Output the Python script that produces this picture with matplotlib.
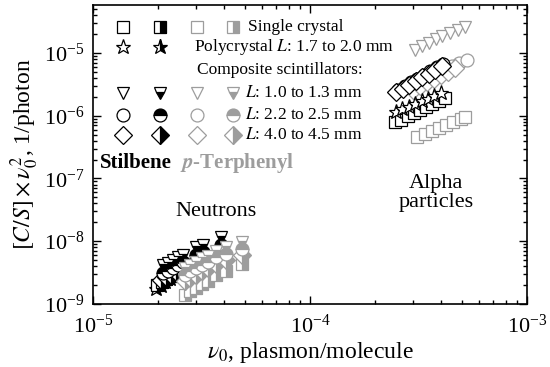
import matplotlib
matplotlib.use("Agg")
import matplotlib.pyplot as plt

plt.rcParams['font.family'] = ['Liberation Serif', 'DejaVu Serif']
plt.rcParams['mathtext.fontset'] = 'stix'

BLACK = 'black'
GRAY = '#9d9d9d'

# ---- alpha particles (open markers) ----
st_sq_a_x = [2.47e-4, 2.64e-4, 2.82e-4, 3.01e-4, 3.21e-4, 3.43e-4, 3.67e-4, 3.92e-4, 4.19e-4]
st_sq_a_y = [7.8e-7, 8.7e-7, 9.8e-7, 1.10e-6, 1.23e-6, 1.38e-6, 1.55e-6, 1.74e-6, 1.95e-6]
st_star_a_x = [2.50e-4, 2.67e-4, 2.86e-4, 3.06e-4, 3.27e-4, 3.50e-4, 3.74e-4, 4.00e-4]
st_star_a_y = [1.15e-6, 1.27e-6, 1.40e-6, 1.55e-6, 1.71e-6, 1.88e-6, 2.08e-6, 2.30e-6]
st_circ_a_x = [2.55e-4, 2.73e-4, 2.92e-4, 3.13e-4, 3.35e-4, 3.59e-4, 3.84e-4, 4.10e-4]
st_circ_a_y = [2.6e-6, 3.0e-6, 3.4e-6, 3.9e-6, 4.5e-6, 5.1e-6, 5.9e-6, 6.8e-6]
st_dia_a_x = [2.50e-4, 2.68e-4, 2.87e-4, 3.08e-4, 3.30e-4, 3.54e-4, 3.79e-4, 4.06e-4]
st_dia_a_y = [2.35e-6, 2.7e-6, 3.1e-6, 3.55e-6, 4.1e-6, 4.7e-6, 5.4e-6, 6.3e-6]

tp_sq_a_x = [3.13e-4, 3.38e-4, 3.65e-4, 3.94e-4, 4.25e-4, 4.58e-4, 4.95e-4, 5.20e-4]
tp_sq_a_y = [4.5e-7, 5.1e-7, 5.7e-7, 6.4e-7, 7.2e-7, 8.0e-7, 8.9e-7, 9.6e-7]
tp_tri_a_x = [3.05e-4, 3.28e-4, 3.53e-4, 3.80e-4, 4.08e-4, 4.40e-4, 4.80e-4, 5.18e-4]
tp_tri_a_y = [1.12e-5, 1.28e-5, 1.45e-5, 1.65e-5, 1.87e-5, 2.10e-5, 2.35e-5, 2.60e-5]
tp_circ_a_x = [3.10e-4, 3.34e-4, 3.60e-4, 3.88e-4, 4.18e-4, 4.50e-4, 4.85e-4, 5.30e-4]
tp_circ_a_y = [3.0e-6, 3.5e-6, 4.0e-6, 4.6e-6, 5.3e-6, 6.1e-6, 7.0e-6, 7.8e-6]
tp_dia_a_x = [2.97e-4, 3.20e-4, 3.45e-4, 3.72e-4, 4.00e-4, 4.32e-4, 4.66e-4]
tp_dia_a_y = [2.6e-6, 3.0e-6, 3.4e-6, 3.9e-6, 4.4e-6, 5.0e-6, 5.7e-6]

# ---- neutrons (half-filled markers) ----
st_tri_n_x = [2.10e-5, 2.22e-5, 2.34e-5, 2.47e-5, 2.60e-5, 3.00e-5, 3.22e-5, 3.89e-5]
st_tri_n_y = [4.1e-9, 4.5e-9, 5.0e-9, 5.5e-9, 6.1e-9, 8.0e-9, 8.8e-9, 1.17e-8]
st_circ_n_x = [2.10e-5, 2.22e-5, 2.34e-5, 2.47e-5, 2.60e-5, 3.00e-5, 3.22e-5, 3.89e-5]
st_circ_n_y = [3.1e-9, 3.4e-9, 3.75e-9, 4.1e-9, 4.6e-9, 6.0e-9, 6.6e-9, 8.8e-9]
st_dia_n_x = [2.05e-5, 2.17e-5, 2.29e-5, 2.42e-5, 2.55e-5, 2.95e-5, 3.17e-5, 3.85e-5]
st_dia_n_y = [2.4e-9, 2.65e-9, 2.9e-9, 3.2e-9, 3.6e-9, 4.7e-9, 5.2e-9, 6.9e-9]
st_sq_n_x = [1.98e-5, 2.08e-5, 2.18e-5, 2.30e-5, 2.45e-5]
st_sq_n_y = [2.0e-9, 2.25e-9, 2.5e-9, 2.8e-9, 3.1e-9]
st_star_n_x = [1.95e-5, 2.05e-5, 2.15e-5, 2.26e-5, 2.40e-5, 2.54e-5]
st_star_n_y = [1.7e-9, 1.95e-9, 2.2e-9, 2.45e-9, 2.75e-9, 3.0e-9]

tp_tri_n_x = [2.65e-5, 2.80e-5, 2.98e-5, 3.18e-5, 3.39e-5, 3.70e-5, 4.10e-5, 4.86e-5]
tp_tri_n_y = [3.7e-9, 4.2e-9, 4.7e-9, 5.3e-9, 5.9e-9, 6.9e-9, 8.0e-9, 9.6e-9]
tp_circ_n_x = [2.65e-5, 2.80e-5, 2.98e-5, 3.18e-5, 3.39e-5, 3.70e-5, 4.10e-5, 4.86e-5]
tp_circ_n_y = [2.9e-9, 3.3e-9, 3.7e-9, 4.2e-9, 4.7e-9, 5.5e-9, 6.3e-9, 7.6e-9]
tp_dia_n_x = [2.65e-5, 2.80e-5, 2.98e-5, 3.18e-5, 3.39e-5, 3.70e-5, 4.10e-5, 4.86e-5]
tp_dia_n_y = [2.3e-9, 2.6e-9, 2.9e-9, 3.3e-9, 3.7e-9, 4.4e-9, 5.0e-9, 6.1e-9]
tp_sq_n_x = [2.65e-5, 2.80e-5, 2.98e-5, 3.18e-5, 3.39e-5, 3.70e-5, 4.10e-5, 4.86e-5]
tp_sq_n_y = [1.4e-9, 1.6e-9, 1.8e-9, 2.05e-9, 2.35e-9, 2.9e-9, 3.4e-9, 4.3e-9]

legend_rows = [
    ('s', 'Single crystal'),
    ('*', 'Polycrystal $L$: 1.7 to 2.0 mm'),
    (None, 'Composite scintillators:'),
    ('v', '$L$: 1.0 to 1.3 mm'),
    ('o', '$L$: 2.2 to 2.5 mm'),
    ('D', '$L$: 4.0 to 4.5 mm'),
]
half_fill = {'s': 'right', '*': 'right', 'v': 'bottom', 'o': 'top', 'D': 'right'}

MS = 9.3
LW = 0.9


def open_pts(ax, x, y, m, c, ms=MS):
    ax.plot(x, y, ls='none', marker=m, ms=ms, mfc='white', mec=c, mew=LW)


def half_pts(ax, x, y, m, c, ms=MS):
    ax.plot(x, y, ls='none', marker=m, ms=ms, mec=c, mfc=c, mfcalt='white',
            fillstyle=half_fill[m], mew=LW)


fig = plt.figure(figsize=(5.5, 3.67), dpi=100)
ax = fig.add_axes([0.169, 0.172, 0.789, 0.814])

# alpha
open_pts(ax, tp_sq_a_x, tp_sq_a_y, 's', GRAY)
open_pts(ax, tp_tri_a_x, tp_tri_a_y, 'v', GRAY)
open_pts(ax, tp_circ_a_x, tp_circ_a_y, 'o', GRAY)
open_pts(ax, tp_dia_a_x, tp_dia_a_y, 'D', GRAY)
open_pts(ax, st_circ_a_x, st_circ_a_y, 'o', BLACK)
open_pts(ax, st_dia_a_x, st_dia_a_y, 'D', BLACK)
open_pts(ax, st_sq_a_x, st_sq_a_y, 's', BLACK)
open_pts(ax, st_star_a_x, st_star_a_y, '*', BLACK, ms=MS + 2)

# neutrons
half_pts(ax, st_star_n_x, st_star_n_y, '*', BLACK, ms=MS + 2)
half_pts(ax, st_sq_n_x, st_sq_n_y, 's', BLACK)
half_pts(ax, st_dia_n_x, st_dia_n_y, 'D', BLACK)
half_pts(ax, st_circ_n_x, st_circ_n_y, 'o', BLACK)
half_pts(ax, st_tri_n_x, st_tri_n_y, 'v', BLACK)
half_pts(ax, tp_sq_n_x, tp_sq_n_y, 's', GRAY)
half_pts(ax, tp_dia_n_x, tp_dia_n_y, 'D', GRAY)
half_pts(ax, tp_circ_n_x, tp_circ_n_y, 'o', GRAY)
half_pts(ax, tp_tri_n_x, tp_tri_n_y, 'v', GRAY)

ax.set_xscale('log')
ax.set_yscale('log')
ax.set_xlim(1e-5, 1e-3)
ax.set_ylim(1e-9, 5.8e-5)

# legend drawn by hand (keys in axes fraction)
col_x = [0.069, 0.154, 0.240, 0.323]
row_y = [0.926, 0.860, 0.783, 0.706, 0.632, 0.565]
text_x = [0.357, 0.233, 0.240, 0.350, 0.350, 0.350]
for (m, lab), ry, tx in zip(legend_rows, row_y, text_x):
    if m is not None:
        ms = MS + 2 if m == '*' else MS
        ax.plot([col_x[0]], [ry], transform=ax.transAxes, ls='none', marker=m, ms=ms,
                mfc='white', mec=BLACK, mew=LW, clip_on=False)
        ax.plot([col_x[1]], [ry], transform=ax.transAxes, ls='none', marker=m, ms=ms,
                mfc=BLACK, mec=BLACK, mfcalt='white', fillstyle=half_fill[m], mew=LW,
                clip_on=False)
        if m != '*':
            ax.plot([col_x[2]], [ry], transform=ax.transAxes, ls='none', marker=m, ms=ms,
                    mfc='white', mec=GRAY, mew=LW, clip_on=False)
            ax.plot([col_x[3]], [ry], transform=ax.transAxes, ls='none', marker=m, ms=ms,
                    mfc=GRAY, mec=GRAY, mfcalt='white', fillstyle=half_fill[m], mew=LW,
                    clip_on=False)
    ax.text(tx, ry, lab, transform=ax.transAxes, fontsize=12.5, va='center', ha='left')

ax.text(0.016, 0.472, 'Stilbene', transform=ax.transAxes, fontsize=15,
        fontweight='bold', va='center', ha='left')
ax.text(0.200, 0.472, r'$\mathbfit{p}$-Terphenyl', transform=ax.transAxes, fontsize=15,
        fontweight='bold', color=GRAY, va='center', ha='left')
ax.text(0.283, 0.308, 'Neutrons', transform=ax.transAxes, fontsize=16,
        ha='center', va='center')
ax.text(0.790, 0.371, 'Alpha\nparticles', transform=ax.transAxes, fontsize=16,
        ha='center', va='center', linespacing=0.95)

ax.set_xlabel(r'$\nu_0$, plasmon/molecule', fontsize=17, labelpad=1)
ax.set_ylabel(r'$[C/S]\times\nu_0^2$, 1/photon', fontsize=17, labelpad=2)

ax.tick_params(which='both', direction='in', top=True, right=True, labelsize=16, width=1)
ax.tick_params(which='major', length=6)
ax.tick_params(which='minor', length=3)
ax.tick_params(axis='x', pad=8)
ax.tick_params(axis='y', pad=6)
for s in ax.spines.values():
    s.set_linewidth(1.2)

fig.savefig('out.png', dpi=100)
